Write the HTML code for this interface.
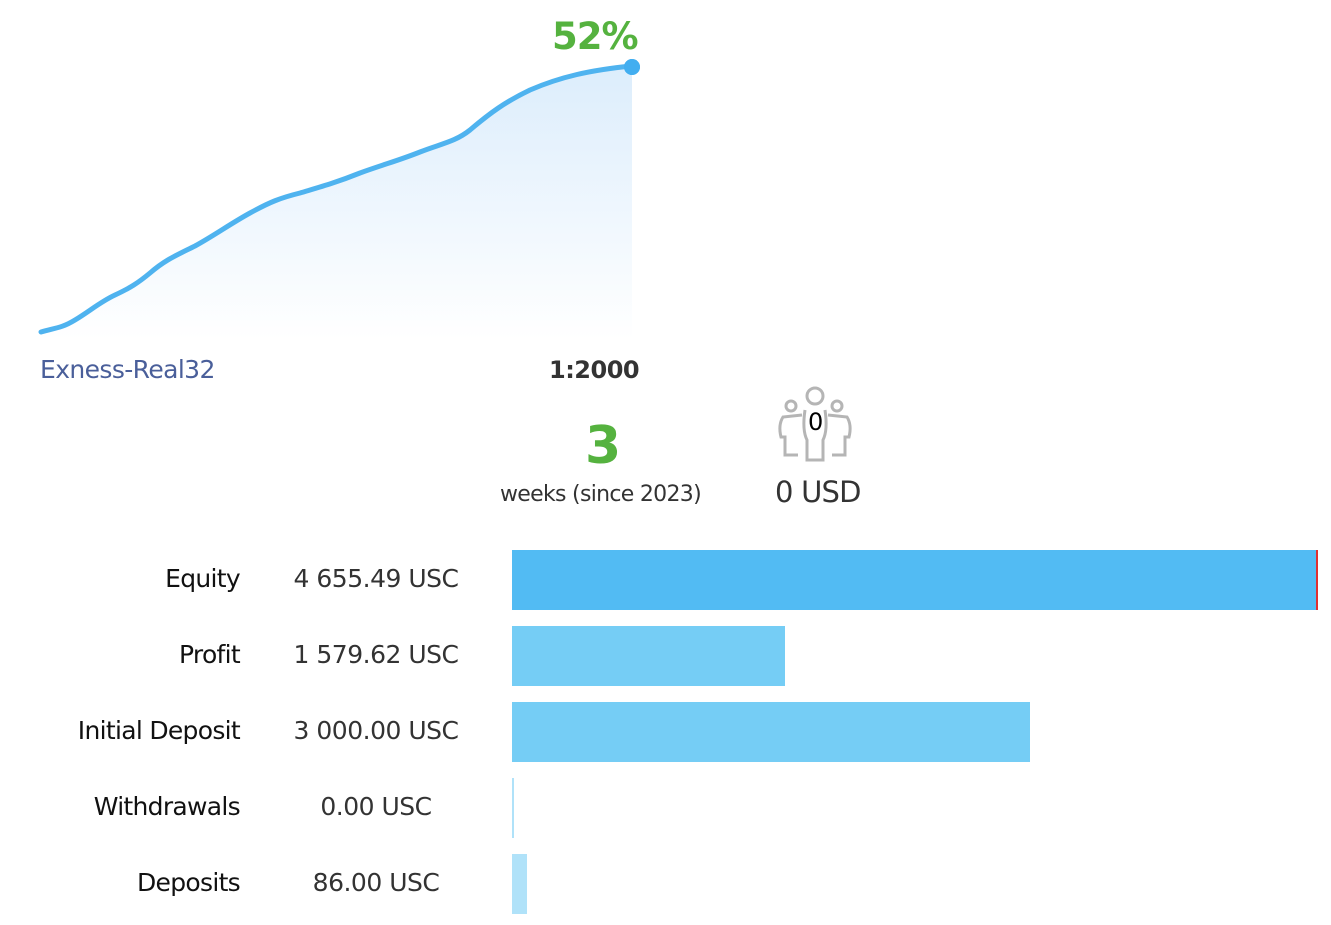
<!DOCTYPE html>
<html><head><meta charset="utf-8"><style>
body{margin:0;width:1331px;height:925px;background:#fff;font-family:"DejaVu Sans","Liberation Sans",sans-serif;position:relative;overflow:hidden}
.t{position:absolute;white-space:nowrap}
.lab{position:absolute;right:1091px;font-size:25px;color:#111;white-space:nowrap;letter-spacing:-0.7px}
.val{position:absolute;width:240px;left:256px;text-align:center;font-size:25px;color:#333;white-space:nowrap;letter-spacing:-0.5px}
.bar{position:absolute;left:512px;height:60px}
</style></head><body>
<svg width="1331" height="400" style="position:absolute;left:0;top:0">
<defs><linearGradient id="g" x1="0" y1="0" x2="0" y2="1"><stop offset="0" stop-color="#dcedfc"/><stop offset="1" stop-color="#fff"/></linearGradient></defs>
<path d="M41,332 C55,328 62,328 75,320 C90,311 100,302 115,295 C130,288 138,283 150,273 C165,260 175,256 195,246 C215,235 230,224 250,213 C270,202 280,198 300,193 C320,187 335,183 360,173 C385,164 400,160 420,152 C440,144 455,142 470,130 C490,113 505,102 530,90 C560,77 590,70 632,66 L632,340 L41,340 Z" fill="url(#g)"/>
<path d="M41,332 C55,328 62,328 75,320 C90,311 100,302 115,295 C130,288 138,283 150,273 C165,260 175,256 195,246 C215,235 230,224 250,213 C270,202 280,198 300,193 C320,187 335,183 360,173 C385,164 400,160 420,152 C440,144 455,142 470,130 C490,113 505,102 530,90 C560,77 590,70 632,66" fill="none" stroke="#4fb3ef" stroke-width="5" stroke-linecap="round"/>
<circle cx="632" cy="67" r="8" fill="#42aef0"/>
<circle cx="632" cy="67" r="8" fill="#42aef0"/>
</svg>
<div class="t" style="left:552px;top:15px;font-size:37px;font-weight:bold;color:#55b23f;letter-spacing:-1px">52%</div>
<div class="t" style="left:40px;top:355px;font-size:25px;color:#4a5f9a;letter-spacing:-0.6px">Exness-Real32</div>
<div class="t" style="left:549px;top:356px;font-size:24px;font-weight:bold;color:#333;letter-spacing:-0.5px">1:2000</div>
<div class="t" style="left:585px;top:416px;font-size:52px;font-weight:bold;color:#55b23f">3</div>
<div class="t" style="left:500px;top:482px;font-size:22px;color:#333;letter-spacing:-0.7px">weeks (since 2023)</div>
<svg width="80" height="80" style="position:absolute;left:776px;top:385px" fill="none" stroke="#b5b5b5" stroke-width="3">
<circle cx="39" cy="11" r="8"/><circle cx="15" cy="21" r="5"/><circle cx="61" cy="21" r="5"/>
<path d="M29,25 Q26,45 31,55 L31,75 L47,75 L47,55 Q52,45 49,25"/>
<path d="M26,30 L7,32 Q2,40 5,52 L9,52 L9,70 L22,70"/>
<path d="M52,30 L71,32 Q76,40 73,52 L69,52 L69,70 L56,70"/>
</svg>
<div class="t" style="left:808px;top:408px;font-size:24px;color:#000">0</div>
<div class="t" style="left:775px;top:475px;font-size:29px;color:#333;letter-spacing:-0.8px">0 USD</div>

<div class="lab" style="top:564px">Equity</div><div class="val" style="top:564px">4 655.49 USC</div>
<div class="bar" style="top:550px;width:804px;background:#52bbf3"></div>
<div class="bar" style="top:550px;left:1316px;width:2px;background:#e03030"></div>
<div class="lab" style="top:640px">Profit</div><div class="val" style="top:640px">1 579.62 USC</div>
<div class="bar" style="top:626px;width:273px;background:#75cdf5"></div>
<div class="lab" style="top:716px">Initial Deposit</div><div class="val" style="top:716px">3 000.00 USC</div>
<div class="bar" style="top:702px;width:518px;background:#75cdf5"></div>
<div class="lab" style="top:792px">Withdrawals</div><div class="val" style="top:792px">0.00 USC</div>
<div class="bar" style="top:778px;width:2px;background:#b0e2f9"></div>
<div class="lab" style="top:868px">Deposits</div><div class="val" style="top:868px">86.00 USC</div>
<div class="bar" style="top:854px;width:15px;background:#b0e2f9"></div>
</body></html>
